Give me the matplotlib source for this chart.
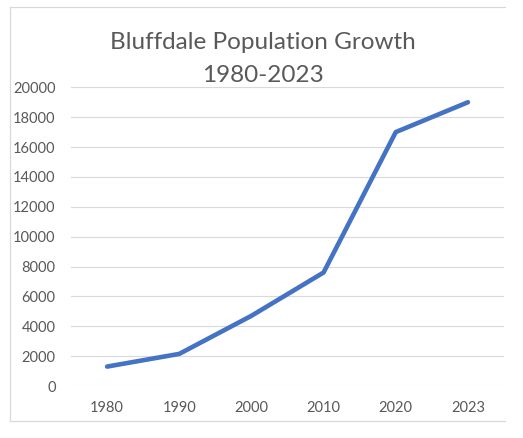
import matplotlib
matplotlib.use('Agg')
import matplotlib.pyplot as plt
from matplotlib.lines import Line2D

years = ['1980', '1990', '2000', '2010', '2020', '2023']
population = [1300, 2150, 4700, 7600, 17000, 19000]
y_ticks = list(range(0, 20001, 2000))

plt.rcParams['font.family'] = ['Lato', 'DejaVu Sans']
text_col = '#595959'
grid_col = '#D9D9D9'

W, H = 523, 438
fig = plt.figure(figsize=(W / 100, H / 100), dpi=100)
ax = fig.add_axes([71 / W, 1 - 386 / H, 433 / W, (386 - 87.3) / H])

xs = list(range(len(years)))
ax.plot(xs, population, color='#4472C4', linewidth=3.3,
        solid_capstyle='round', solid_joinstyle='round', zorder=3)

ax.set_xlim(-0.5, len(years) - 0.5)
ax.set_ylim(0, 20000)
ax.set_yticks(y_ticks)
ax.set_yticklabels([str(v) for v in y_ticks])
ax.set_xticks(xs)
ax.set_xticklabels(years)
ax.tick_params(axis='y', length=0, pad=11, labelsize=10.5, labelcolor=text_col)
ax.tick_params(axis='x', length=0, pad=11, labelsize=10.5, labelcolor=text_col)
ax.grid(axis='y', color=grid_col, linewidth=0.8)
ax.set_axisbelow(True)
for s in ax.spines.values():
    s.set_visible(False)

# two-line title, baselines placed separately
for line, base in [('Bluffdale Population Growth', 49), ('1980-2023', 82)]:
    fig.text(263 / W, 1 - base / H, line, ha='center', va='baseline',
             fontsize=17.5, color=text_col)

# chart frame (left, top, bottom only; right side is cropped)
for xdata, ydata in [([9.5, 9.5], [7, 421]), ([9.5, 505], [7, 7]),
                     ([9.5, 505], [421, 421])]:
    fig.add_artist(Line2D([x / W for x in xdata], [1 - y / H for y in ydata],
                          color=grid_col, linewidth=0.9,
                          transform=fig.transFigure))

fig.savefig('out.png', dpi=100)
